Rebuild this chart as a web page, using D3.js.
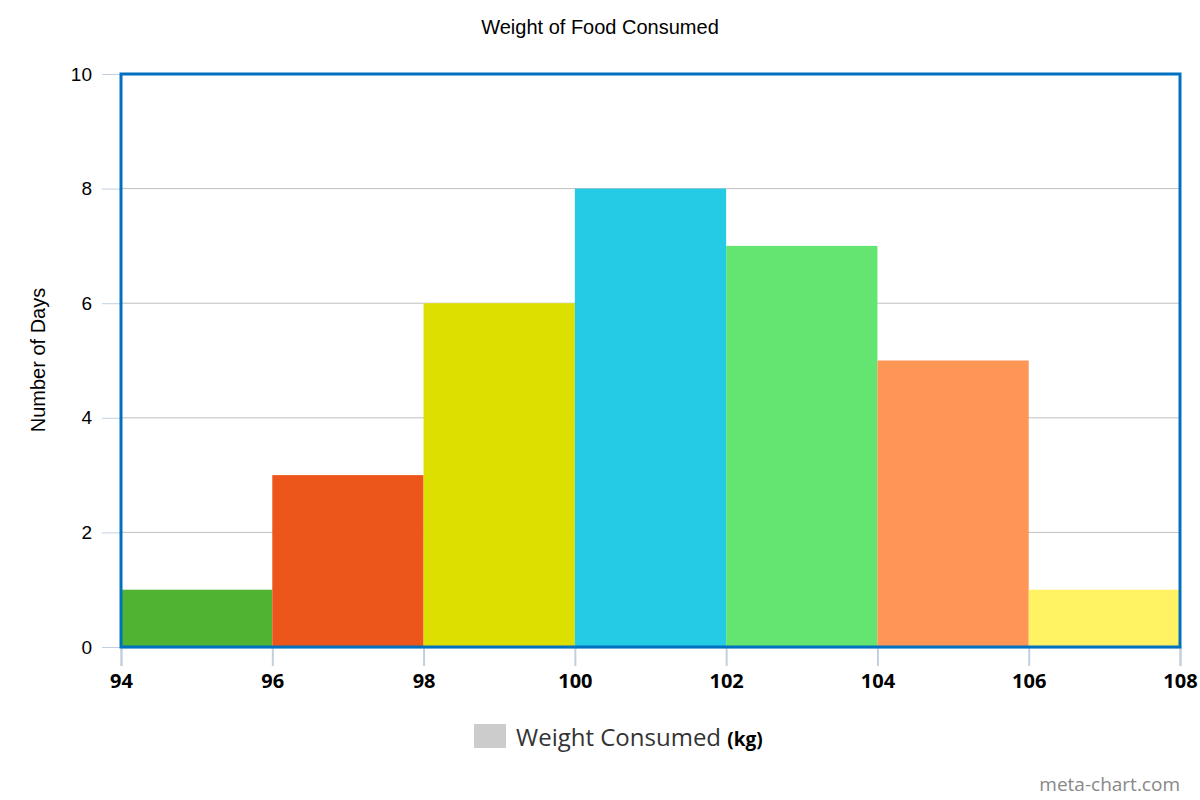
<!DOCTYPE html>
<html>
<head>
<meta charset="utf-8">
<script src="https://cdn.jsdelivr.net/npm/d3@7"></script>
<style>
  body { margin: 0; background: #fff; }
  svg { display: block; }
</style>
</head>
<body>
<div id="chart"></div>
<script>
// histogram bins (kg) and counts
const binStarts = [94, 96, 98, 100, 102, 104, 106];
const binWidth = 2;
const days = [1, 3, 6, 8, 7, 5, 1];
const barColors = ['#50B432', '#ED561B', '#DDDF00', '#24CBE5', '#64E572', '#FF9655', '#FFF263'];
const xTicks = [94, 96, 98, 100, 102, 104, 106, 108];
const yTicks = [0, 2, 4, 6, 8, 10];

const w = 1200, h = 800;
const pL = 121, pR = 1180, pT = 74, pB = 647;

const svg = d3.select('#chart').append('svg').attr('width', w).attr('height', h);

const x = d3.scaleLinear().domain([94, 108]).range([pL, pR]);
const y = d3.scaleLinear().domain([0, 10]).range([pB, pT]);

// title
svg.append('text')
   .attr('x', 600).attr('y', 34)
   .attr('text-anchor', 'middle')
   .style('font', '20px "Liberation Sans", Arial, sans-serif')
   .text('Weight of Food Consumed');

// grid lines + y ticks
svg.append('g').selectAll('line')
   .data(yTicks.filter(d => d > 0 && d < 10))
   .enter().append('line')
   .attr('x1', pL).attr('x2', pR)
   .attr('y1', d => y(d)).attr('y2', d => y(d))
   .attr('stroke', '#c0c0c0').attr('stroke-width', 1);

const yA = d3.axisLeft(y).tickValues(yTicks).tickSize(19).tickPadding(10);
const gy = svg.append('g').attr('transform', 'translate(' + pL + ',0)').call(yA);
gy.select('.domain').remove();
gy.selectAll('line').attr('stroke', '#c0d0e0');
gy.selectAll('text')
  .style('font', '19px "Liberation Sans", Arial, sans-serif')
  .attr('fill', '#000');

// bars
svg.selectAll('rect.bar')
   .data(days)
   .enter().append('rect')
   .attr('class', 'bar')
   .attr('x', (d, i) => x(binStarts[i]))
   .attr('width', (d, i) => x(binStarts[i] + binWidth) - x(binStarts[i]))
   .attr('y', d => y(d))
   .attr('height', d => y(0) - y(d))
   .attr('fill', (d, i) => barColors[i]);

// x axis
const xA = d3.axisBottom(x).tickValues(xTicks).tickSize(19).tickPadding(8);
const gx = svg.append('g').attr('transform', 'translate(0,' + pB + ')').call(xA);
gx.select('.domain').attr('stroke', '#c0d0e0').attr('stroke-width', 2);
gx.selectAll('line').attr('stroke', '#c0d0e0').attr('stroke-width', 2);
gx.selectAll('text')
  .style('font', 'bold 20px "Open Sans", sans-serif')
  .attr('fill', '#000');

// plot border
svg.append('rect')
   .attr('x', pL).attr('y', pT)
   .attr('width', pR - pL).attr('height', pB - pT)
   .attr('fill', 'none')
   .attr('stroke', '#0070C0').attr('stroke-width', 3);

// y label
svg.append('text')
   .attr('transform', 'translate(45,360) rotate(-90)')
   .attr('text-anchor', 'middle')
   .style('font', '20px "Liberation Sans", Arial, sans-serif')
   .text('Number of Days');

// legend
svg.append('rect')
   .attr('x', 474).attr('y', 724).attr('width', 32).attr('height', 24)
   .attr('fill', '#cccccc');
const lt = svg.append('text')
   .attr('x', 516).attr('y', 746)
   .style('font', '24px "Open Sans", sans-serif')
   .attr('fill', '#333');
lt.append('tspan').text('Weight Consumed ');
lt.append('tspan').style('font-weight', 'bold').style('font-size', '19px').attr('fill', '#000').text('(kg)');

// watermark
svg.append('text')
   .attr('x', 1180).attr('y', 791)
   .attr('text-anchor', 'end')
   .style('font', '19px "Open Sans", sans-serif')
   .attr('fill', '#888')
   .text('meta-chart.com');
</script>
</body>
</html>
